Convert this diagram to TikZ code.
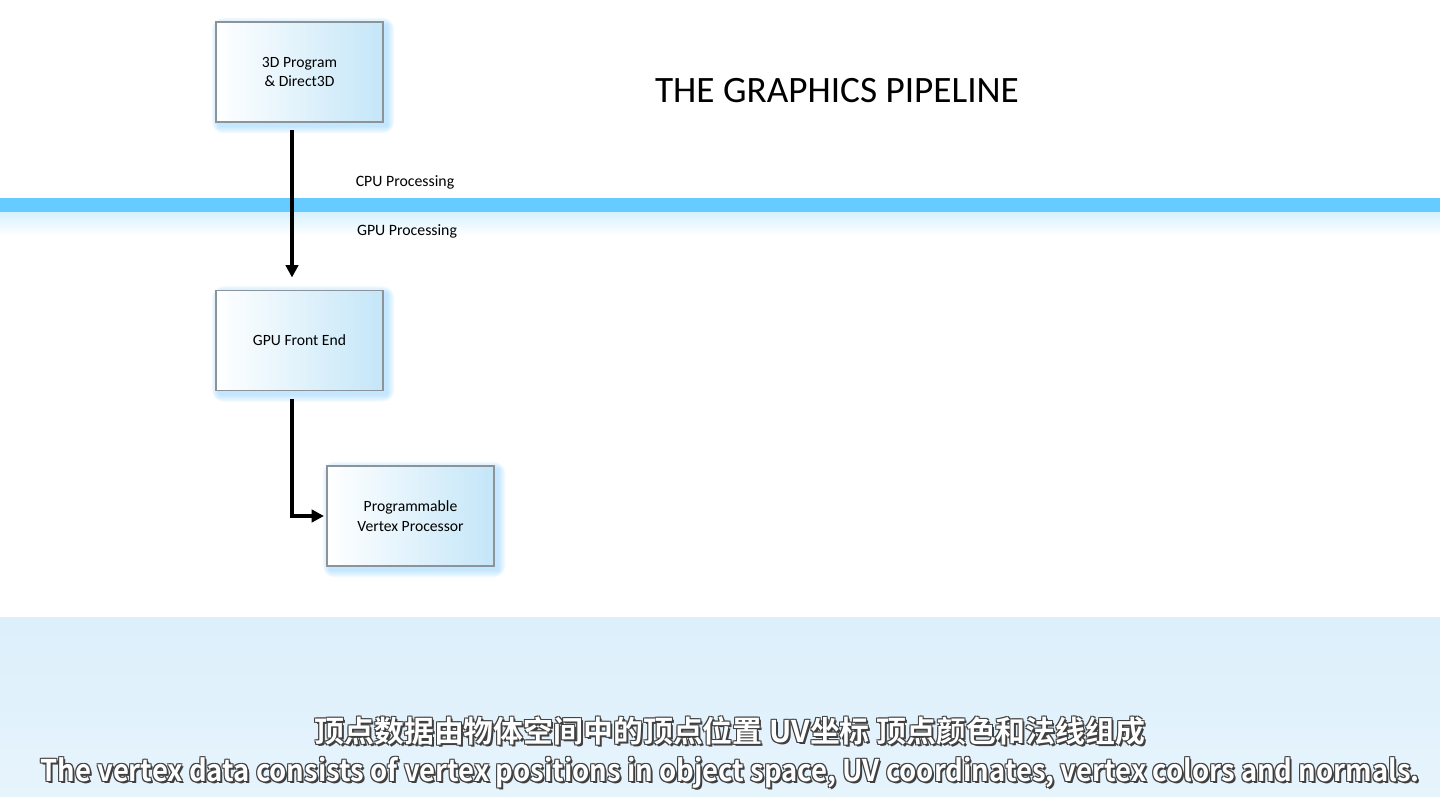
\documentclass[tikz,border=0pt]{standalone}
\usepackage{fontspec}
\setmainfont{Carlito}
\newfontfamily\cjk{Noto Sans CJK SC}[BoldFont=* Bold]
\usetikzlibrary{arrows.meta}
\usetikzlibrary{backgrounds}
\definecolor{bandblue}{HTML}{66CCFF}
\definecolor{boxblue}{HTML}{C4E6F8}
\definecolor{floorblue}{HTML}{DCEFFB}
\definecolor{edgegray}{HTML}{8C9499}
\definecolor{glowblue}{HTML}{7FD0FF}
\tikzstyle{stage} = [%
					draw = edgegray,
					line width = 0.6,
					left color = white,
					right color = boxblue,
					minimum width = 3.34cm,
					minimum height = 2cm,
					align = center,
					font = \fontsize{8.9}{11}\selectfont
					]
\tikzstyle{flow} = [%
					line width = 2.3,
					-{Triangle[length=7pt, width=7pt]}
					]
\tikzstyle{side} = [font = \fontsize{9}{11}\selectfont]
\tikzstyle{subtitle} = [font = \cjk\bfseries\fontsize{17}{20}\selectfont]

\begin{document}
\begin{tikzpicture}[x=0.02cm, y=-0.02cm]
	\useasboundingbox (0,0) rectangle (1440,797);
	
	% Background
	\begin{scope}[on background layer]
		\fill[white] (0,0) rectangle (1440,797);
		\fill[bandblue] (0,198) rectangle (1440,213);
		\shade[top color=bandblue!25, bottom color=white] (0,213) rectangle (1440,236);
		\shade[top color=floorblue, bottom color=floorblue!70] (0,617) rectangle (1440,797);
	\end{scope}
	
	% Nodes
	\node[stage] at (299.5,72) (prog) {3D Program\\\& Direct3D};
	\node[stage] at (299.5,340.5) (frontend) {GPU Front End};
	\node[stage] at (410.5,516) (vertex) {Programmable\\Vertex Processor};
	
	%% Title and labels
	\node[font=\fontsize{21.2}{24}\selectfont] at (837,91) (title) {THE GRAPHICS PIPELINE};
	\node[side] at (405,182) (cpu) {CPU Processing};
	\node[side] at (407,231) (gpu) {GPU Processing};
	
	% Glow
	\begin{scope}[on background layer]
		\foreach \n in {prog, frontend, vertex}
			\foreach \r in {1,...,7}
				\fill[glowblue, opacity=0.08, rounded corners=\r pt]
					([xshift=2pt-\r*0.6pt, yshift=-2pt-\r*0.6pt] \n.south west) rectangle
					([xshift=2pt+\r*0.6pt, yshift=-2pt+\r*0.6pt] \n.north east);
	\end{scope}
	
	% Arrows
	\draw[flow] ([xshift=-0.15cm, yshift=-0.15cm] prog.south) -- ([xshift=-0.15cm, yshift=0.25cm] frontend.north);
	\draw[flow] ([xshift=-0.15cm, yshift=-0.15cm] frontend.south) |- ([xshift=-0.05cm] vertex.west);
	
	% Subtitles
	\foreach \dx/\dy in {-1/-1, 1/-1, -1/1, 1/1, 2/2}
	{
		\node[subtitle, text=black!75] at (730+\dx,731+\dy) {顶点数据由物体空间中的顶点位置 UV坐标 顶点颜色和法线组成};
		\node[subtitle, text=black!75, xscale=0.92] at (730+\dx,773+\dy) {The vertex data consists of vertex positions in object space, UV coordinates, vertex colors and normals.};
	}
	\node[subtitle, text=white] at (730,731) (subzh) {顶点数据由物体空间中的顶点位置 UV坐标 顶点颜色和法线组成};
	\node[subtitle, text=white, xscale=0.92] at (730,773) (suben) {The vertex data consists of vertex positions in object space, UV coordinates, vertex colors and normals.};
\end{tikzpicture}
\end{document}
